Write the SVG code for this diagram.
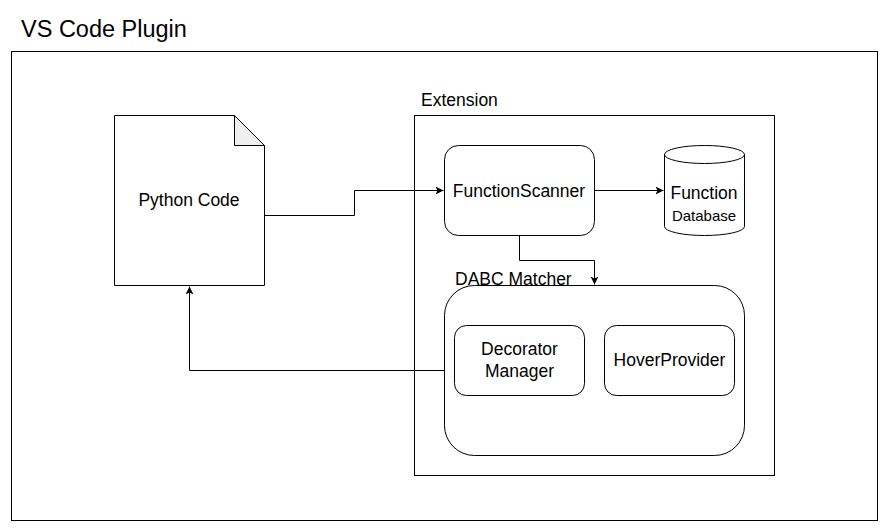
<svg xmlns="http://www.w3.org/2000/svg" width="889" height="531" viewBox="0 0 889 531">
<style>
.box{fill:#fff;stroke:#000;stroke-width:1}
.t{font-family:"Liberation Sans",Arial,sans-serif;fill:#000}
.c{text-anchor:middle}
.ln{fill:none;stroke:#000;stroke-width:1}
</style>
<defs>
<marker id="arr" markerWidth="10" markerHeight="10" refX="8" refY="4" orient="auto" markerUnits="userSpaceOnUse">
<path d="M0,0 L8,4 L0,8 L2,4 Z" fill="#000"/>
</marker>
</defs>
<rect width="889" height="531" fill="#fff"/>
<g id="title"><text class="t" x="21" y="37" font-size="23.5">VS Code Plugin</text></g>
<g id="plugin"><rect class="box" x="11.5" y="51.5" width="866" height="469"/></g>
<g id="extension">
<rect class="box" x="414.5" y="115.5" width="360" height="360"/>
<text class="t" x="421" y="106" font-size="17.5">Extension</text>
</g>
<g id="python-code">
<path class="box" d="M114.5,115.5 H234.5 L264.5,145.5 V285.5 H114.5 Z"/>
<path d="M234.5,115.5 V145.5 H264.5 Z" fill="#efefef" stroke="#000" stroke-width="1"/>
<text class="t c" x="189" y="206" font-size="17.5">Python Code</text>
</g>
<g id="function-scanner">
<rect class="box" x="444.5" y="145.5" width="150" height="90" rx="14"/>
<text class="t c" x="519" y="197" font-size="17.5">FunctionScanner</text>
</g>
<g id="function-database">
<path class="box" d="M664.5,154.5 A40,9 0 0 1 744.5,154.5 V226.5 A40,9 0 0 1 664.5,226.5 Z"/>
<path class="ln" d="M664.5,154.5 A40,9 0 0 0 744.5,154.5"/>
<text class="t c" x="704" y="199" font-size="17.5">Function</text>
<text class="t c" x="704" y="221" font-size="15">Database</text>
</g>
<g id="dabc-matcher">
<rect class="box" x="444.5" y="285.5" width="300" height="170" rx="30"/>
<text class="t" x="455" y="285" font-size="17.5">DABC Matcher</text>
</g>
<g id="decorator-manager">
<rect class="box" x="454.5" y="325.5" width="130" height="70" rx="12"/>
<text class="t c" x="519.5" y="355" font-size="17.5">Decorator</text>
<text class="t c" x="519.5" y="377" font-size="17.5">Manager</text>
</g>
<g id="hover-provider">
<rect class="box" x="604.5" y="325.5" width="130" height="70" rx="12"/>
<text class="t c" x="669.5" y="366" font-size="17.5">HoverProvider</text>
</g>
<g id="connectors">
<path class="ln" d="M264.5,215.5 H354.5 V190.5 H443.5" marker-end="url(#arr)"/>
<path class="ln" d="M594.5,190.5 H663.5" marker-end="url(#arr)"/>
<path class="ln" d="M519.5,235.5 V260.5 H594.5 V284.5" marker-end="url(#arr)"/>
<path class="ln" d="M444.5,370.5 H189.5 V286.5" marker-end="url(#arr)"/>
</g>
</svg>
